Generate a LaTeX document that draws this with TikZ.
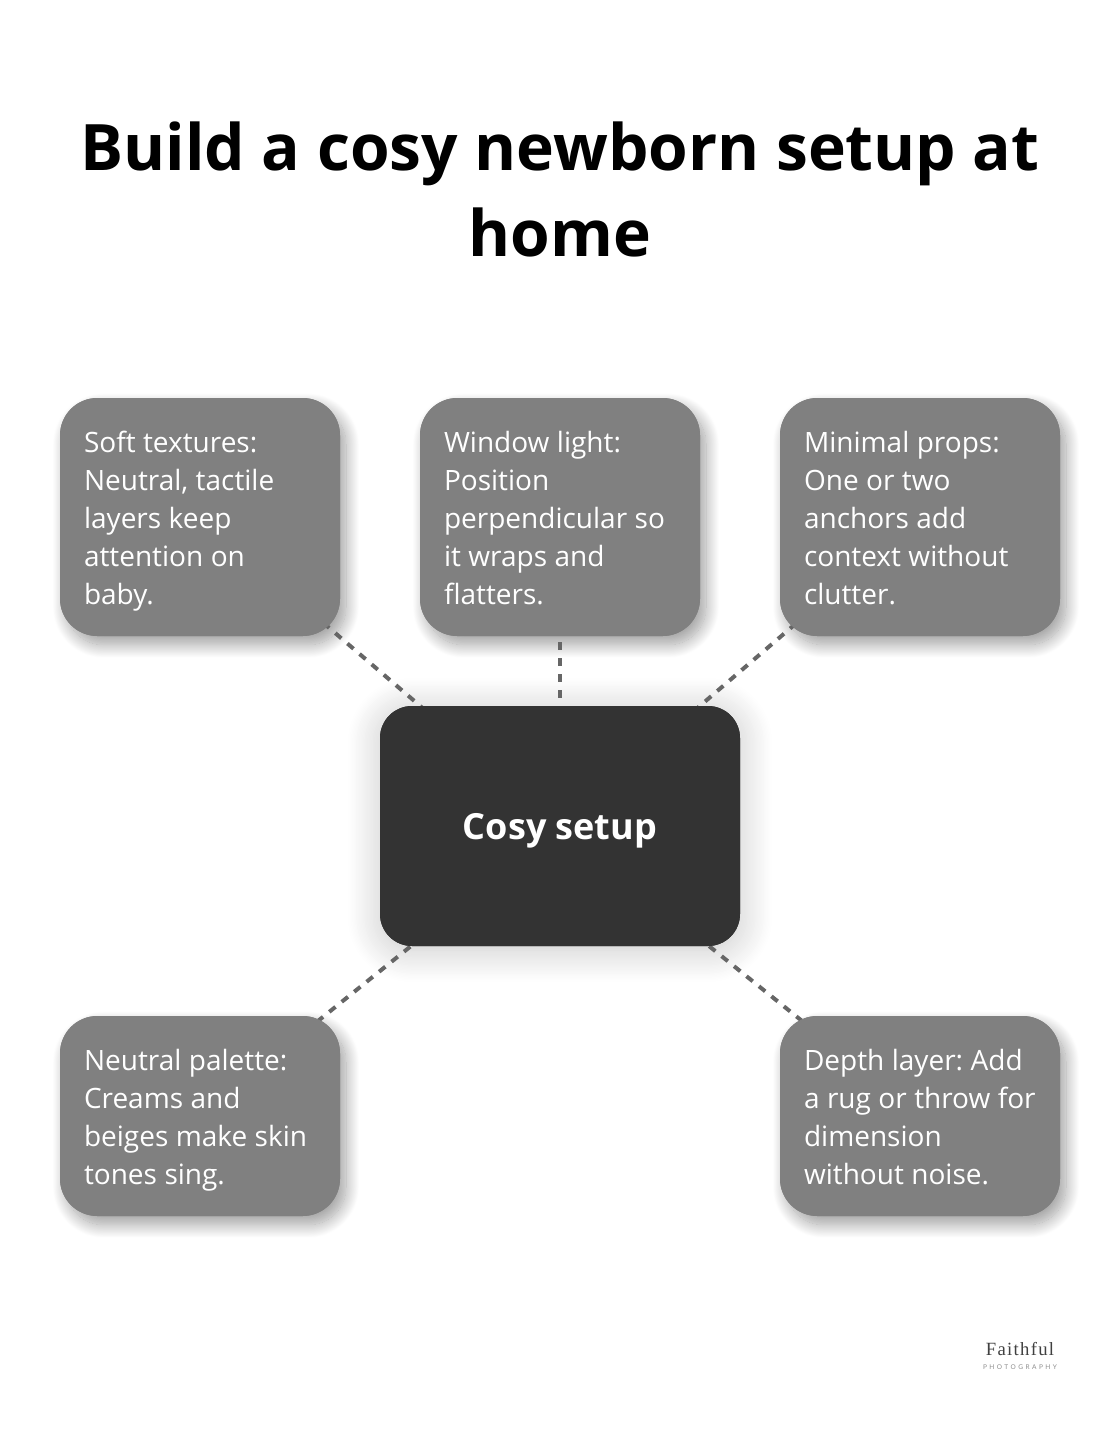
\documentclass[tikz,border=0pt]{standalone}
\usepackage{fontspec}
\setmainfont{Open Sans}
\newfontfamily\logofont[LetterSpace=7]{Liberation Serif}
\newfontfamily\logosmall[LetterSpace=38]{Lato}
\usetikzlibrary{positioning,shadows.blur}
\definecolor{cardgray}{HTML}{808080}
\definecolor{hubdark}{HTML}{333333}
\definecolor{linkgray}{HTML}{666666}
\pgfdeclarelayer{shadowlayer}
\pgfdeclarelayer{linklayer}
\pgfsetlayers{shadowlayer,linklayer,main}
\newcommand{\cardstrut}{\rule[-5.5pt]{0pt}{27.5pt}}
\newcommand{\cardstart}{\frenchspacing\spaceskip=5.6pt\relax\cardstrut}
\tikzset{
  card/.style={rectangle,rounded corners=28pt,fill=cardgray,text=white,align=left,text width=174pt,inner xsep=18pt,inner ysep=0pt,outer sep=0pt,font=\fontsize{21}{28.5}\selectfont,execute at begin node=\cardstart,execute at end node=\cardstrut},
  hub/.style={rectangle,rounded corners=24pt,fill=hubdark,text=white,align=center,outer sep=0pt,minimum width=270pt,minimum height=180pt,text height=20.5pt,text depth=0pt,font=\fontsize{27}{32}\selectfont\bfseries},
  link/.style={line width=3pt,draw=linkgray,dash pattern=on 6pt off 6pt},
  softshadow/.style={fill=cardgray,blur shadow={shadow xshift=4.5pt,shadow yshift=-6.5pt,shadow blur radius=10pt,shadow opacity=38,shadow blur steps=24}},
  hubshadow/.style={fill=hubdark,blur shadow={shadow xshift=0pt,shadow yshift=-3pt,shadow blur radius=24pt,shadow opacity=22,shadow blur steps=24}}
}
\begin{document}
\begin{tikzpicture}[x=0.75pt,y=-0.75pt,node distance=52.5pt and 60pt]
\useasboundingbox (0,0) rectangle (1120,1456);
\node[align=center,font=\fontsize{48.05}{64}\selectfont\bfseries] (title) at (560,189.5) {Build a cosy newborn setup at\\home};
\node[card,minimum height=178.5pt] (window) at (560,517) {Window light:\\Position\\perpendicular so\\it wraps and\\flatters.};
\node[card,minimum height=178.5pt,left=of window] (soft) {Soft textures:\\Neutral, tactile\\layers keep\\attention on\\baby.};
\node[card,minimum height=178.5pt,right=of window] (props) {Minimal props:\\One or two\\anchors add\\context without\\clutter.};
\node[hub,below=of window] (cosy) {Cosy setup};
\node[card,minimum height=150pt,below=285pt of soft] (palette) {Neutral palette:\\Creams and\\beiges make skin\\tones sing.};
\node[card,minimum height=150pt,below=285pt of props] (depth) {Depth layer: Add\\\mbox{a rug or throw for}\\dimension\\without noise.};
\node[font=\logofont\fontsize{14}{16}\selectfont,text=black!75] (logo) at (1020,1349) {Faithful};
\node[font=\logosmall\fontsize{4.9}{6}\selectfont,text=black!45,below=0pt of logo] (logosub) {PHOTOGRAPHY};
\begin{pgfonlayer}{shadowlayer}
\foreach \n in {soft,window,props,palette,depth}
  \path[softshadow,rounded corners=28pt] (\n.south west) rectangle (\n.north east);
\path[hubshadow,rounded corners=24pt] (cosy.south west) rectangle (cosy.north east);
\end{pgfonlayer}
\begin{pgfonlayer}{linklayer}
\draw[link,dash phase=2.25pt] (window.center) -- (cosy.center);
\draw[link,dash phase=10.3pt] (soft.center) -- (cosy.center);
\draw[link,dash phase=9.6pt] (props.center) -- (cosy.center);
\draw[link,dash phase=7.5pt] (palette.center) -- (cosy.center);
\draw[link,dash phase=6.9pt] (depth.center) -- (cosy.center);
\end{pgfonlayer}
\end{tikzpicture}
\end{document}
